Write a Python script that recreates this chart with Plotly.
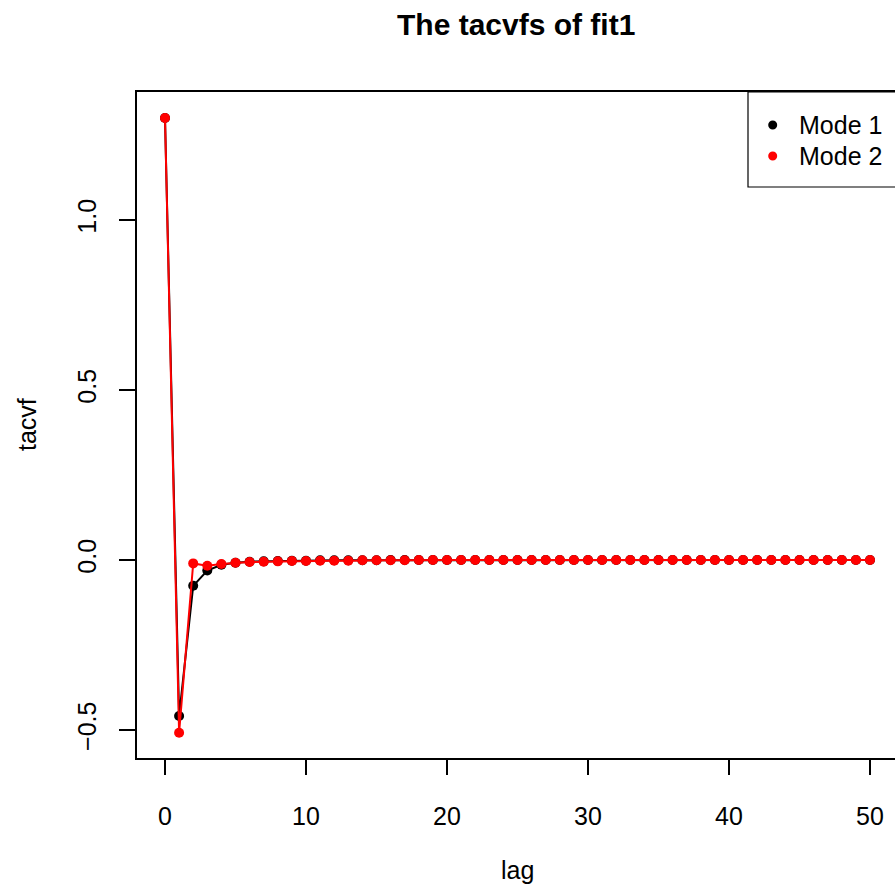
import plotly.graph_objects as go

# ---- data ----
lags = list(range(51))
mode1 = [1.300, -0.459, -0.076, -0.031, -0.014, -0.008, -0.005, -0.004, -0.003, -0.002,
         -0.002, -0.001, -0.001, -0.001, -0.001, -0.001, 0.000, 0.000, 0.000, 0.000,
         0.000, 0.000, 0.000, 0.000, 0.000, 0.000, 0.000, 0.000, 0.000, 0.000,
         0.000, 0.000, 0.000, 0.000, 0.000, 0.000, 0.000, 0.000, 0.000, 0.000,
         0.000, 0.000, 0.000, 0.000, 0.000, 0.000, 0.000, 0.000, 0.000, 0.000,
         0.000]
mode2 = [1.300, -0.508, -0.010, -0.017, -0.012, -0.008, -0.006, -0.005, -0.004, -0.003,
         -0.003, -0.002, -0.002, -0.002, -0.001, -0.001, -0.001, -0.001, 0.000, 0.000,
         0.000, 0.000, 0.000, 0.000, 0.000, 0.000, 0.000, 0.000, 0.000, 0.000,
         0.000, 0.000, 0.000, 0.000, 0.000, 0.000, 0.000, 0.000, 0.000, 0.000,
         0.000, 0.000, 0.000, 0.000, 0.000, 0.000, 0.000, 0.000, 0.000, 0.000,
         0.000]
series_names = ["Mode 1", "Mode 2"]
series_colors = ["black", "red"]
x_ticks = [0, 10, 20, 30, 40, 50]
y_ticks = [-0.5, 0.0, 0.5, 1.0]
y_ticktext = ["\u22120.5", "0.0", "0.5", "1.0"]
title = "The tacvfs of fit1"
x_label = "lag"
y_label = "tacvf"

# ---- layout geometry (pixels) ----
W, H = 895, 886
L, R, T, B = 137, 0, 92, 128
PW, PH = W - L - R, H - T - B

def px_x(p):
    return (p - L) / PW

def px_y(p):
    return (H - B - p) / PH

FONT = "Liberation Sans, Arial, sans-serif"
FS = 25

fig = go.Figure()
for vals, name, col in zip([mode1, mode2], series_names, series_colors):
    fig.add_trace(go.Scatter(
        x=lags, y=vals, name=name, mode="lines+markers",
        line=dict(color=col, width=2),
        marker=dict(color=col, size=10),
        showlegend=False,
    ))

fig.update_layout(
    width=W, height=H, autosize=False,
    margin=dict(l=L, r=R, t=T, b=B, pad=0),
    paper_bgcolor="white", plot_bgcolor="white",
    font=dict(family=FONT, size=FS, color="black"),
    xaxis=dict(
        range=[-28 / 14.1, 730 / 14.1], tickvals=x_ticks,
        ticks="outside", ticklen=15, tickwidth=1.5, tickcolor="black",
        showline=True, mirror=True, linecolor="black", linewidth=1.5,
        showgrid=False, zeroline=False, ticklabelstandoff=20,
        tickfont=dict(family=FONT, size=FS),
    ),
    yaxis=dict(
        range=[-0.5824, 1.3765], tickvals=y_ticks, ticktext=y_ticktext,
        tickangle=-90,
        ticks="outside", ticklen=16, tickwidth=1.5, tickcolor="black",
        showline=True, mirror=False, linecolor="black", linewidth=1.5,
        showgrid=False, zeroline=False, ticklabelstandoff=13,
        tickfont=dict(family=FONT, size=FS),
    ),
)

annotations = [
    dict(text="<b>" + title + "</b>", x=px_x(516), y=px_y(24), xref="paper", yref="paper",
         xanchor="center", yanchor="middle", showarrow=False,
         font=dict(family=FONT, size=30, color="black")),
    dict(text=x_label, x=px_x(517), y=px_y(870), xref="paper", yref="paper",
         xanchor="center", yanchor="middle", showarrow=False,
         font=dict(family=FONT, size=FS, color="black")),
    dict(text=y_label, x=px_x(27), y=px_y(425), xref="paper", yref="paper",
         xanchor="center", yanchor="middle", showarrow=False, textangle=-90,
         font=dict(family=FONT, size=FS, color="black")),
]
shapes = [
    dict(type="rect", xref="paper", yref="paper",
         x0=px_x(748), x1=px_x(1000), y0=px_y(187), y1=px_y(92),
         line=dict(color="black", width=1.2), fillcolor="white", layer="above"),
]
leg_y = [125, 156]
for yy, name, col in zip(leg_y, series_names, series_colors):
    shapes.append(dict(type="circle", xref="paper", yref="paper",
                       xsizemode="pixel", ysizemode="pixel",
                       xanchor=px_x(772.7), yanchor=px_y(yy),
                       x0=-4.5, x1=4.5, y0=-4.5, y1=4.5,
                       fillcolor=col, line=dict(color=col, width=0), layer="above"))
    annotations.append(dict(text=name, x=px_x(797), y=px_y(yy), xref="paper", yref="paper",
                            xanchor="left", yanchor="middle", showarrow=False,
                            font=dict(family=FONT, size=FS, color="black")))

fig.update_layout(annotations=annotations, shapes=shapes)
fig.write_html("out.html", config={"displayModeBar": False},
               post_script="document.body.style.margin='0';")
